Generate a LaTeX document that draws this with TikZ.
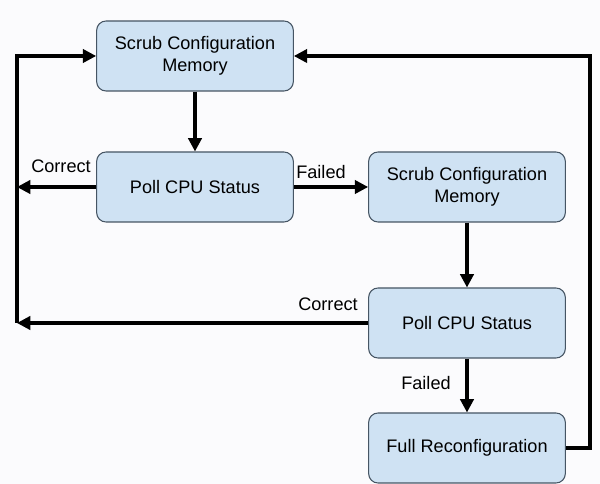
\documentclass[tikz,border=0pt]{standalone}
\usepackage{fontspec}
\setmainfont{Liberation Sans}
\usetikzlibrary{arrows.meta}
\definecolor{boxfill}{RGB}{207,226,243}
\definecolor{boxline}{RGB}{70,85,100}
\definecolor{paper}{RGB}{251,251,253}
\tikzset{
  stepbox/.style={draw=boxline, line width=0.8pt, fill=boxfill, rounded corners=7pt,
    minimum width=147.5pt, minimum height=52.5pt, align=center, inner sep=0pt,
    font=\fontsize{13.6}{16.5}\selectfont},
  flow/.style={line width=2.3pt, -{Triangle[length=10pt,width=10pt]}},
  plain/.style={line width=2.3pt},
  lbl/.style={font=\fontsize{13.6}{16}\selectfont, inner sep=0pt}
}
\begin{document}
\begin{tikzpicture}[x=0.75pt,y=-0.75pt]
\fill[paper] (0,0) rectangle (600,484);
\useasboundingbox (0,0) rectangle (600,484);

\node[stepbox] (b1) at (195,56) {Scrub Configuration\\Memory};
\node[stepbox] (b2) at (195,187) {Poll CPU Status};
\node[stepbox] (b3) at (467,187) {Scrub Configuration\\Memory};
\node[stepbox] (b4) at (467,323) {Poll CPU Status};
\node[stepbox] (b5) at (467,448) {Full Reconfiguration};

\coordinate (c1) at (17,187);
\coordinate (c2) at (17,323);
\coordinate (r1) at (590,448);

\draw[flow] (b1) -- (b2);
\draw[flow] (b2) -- (b3);
\draw[flow] (b3) -- (b4);
\draw[flow] (b4) -- (b5);
\draw[flow] (b2.west) -- (c1);
\draw[flow] (b4.west) -- (c2);
\draw[flow] (c2) |- (b1.west);
\draw[flow] (b5.east) -- (r1) |- (b1.east);

\node[lbl] (l1) at (61,166) {Correct};
\node[lbl] (l2) at (321,172) {Failed};
\node[lbl] (l3) at (328,304) {Correct};
\node[lbl] (l4) at (426,383) {Failed};
\end{tikzpicture}
\end{document}
